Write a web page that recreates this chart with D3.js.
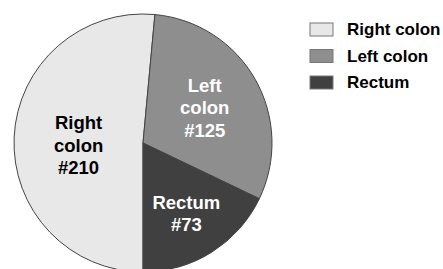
<!DOCTYPE html>
<html>
<head>
<meta charset="utf-8">
<script src="https://cdn.jsdelivr.net/npm/d3@7"></script>
<style>
  body { margin: 0; background: #fff; }
  text { font-family: "Liberation Sans", Arial, sans-serif; font-weight: bold; }
</style>
</head>
<body>
<svg width="443" height="269"></svg>
<script>
var width = 443;
var height = 269;

// data
var categories = ["Right colon", "Left colon", "Rectum"];
var counts = [210, 125, 73];
var colors = ["#e8e8e8", "#8e8e8e", "#404040"];
var labelColors = ["#000", "#fff", "#fff"];

var cx = 143, cy = 143, radius = 129;
var labelRadius = [0.5, 0.55, 0.63]; // fraction of radius for each slice label
var labelShift = [5, 0, 2];          // small vertical nudge

var svg = d3.select("svg");

var pie = d3.pie()
    .sort(null)
    .startAngle(Math.PI)
    .endAngle(3 * Math.PI);

var arcs = pie(counts);

var arc = d3.arc().innerRadius(0).outerRadius(radius);

var g = svg.append("g")
    .attr("transform", "translate(" + cx + "," + cy + ")");

g.selectAll("path")
    .data(arcs)
    .enter().append("path")
    .attr("d", arc)
    .attr("fill", function(d, i) { return colors[i]; })
    .attr("stroke", "#444")
    .attr("stroke-width", 1);

// slice labels
var labels = g.selectAll("text.lab")
    .data(arcs)
    .enter().append("text")
    .attr("class", "lab")
    .attr("text-anchor", "middle")
    .attr("font-size", 18.5)
    .attr("fill", function(d, i) { return labelColors[i]; })
    .attr("transform", function(d, i) {
        var r = radius * labelRadius[i];
        var c = d3.arc().innerRadius(r).outerRadius(r).centroid(d);
        return "translate(" + c[0] + "," + (c[1] + labelShift[i]) + ")";
    });

labels.each(function(d, i) {
    var words = categories[i].split(" ");
    var lines = words.concat(["#" + counts[i]]);
    var lh = 22.5;
    var y0 = -(lines.length - 1) * lh / 2;
    d3.select(this).selectAll("tspan")
        .data(lines)
        .enter().append("tspan")
        .attr("x", 0)
        .attr("y", function(l, j) { return y0 + j * lh; })
        .attr("dy", "0.35em")
        .text(function(l) { return l; });
});

// legend
var legend = svg.append("g")
    .attr("transform", "translate(310,19)")
    .selectAll("g")
    .data(categories)
    .enter().append("g")
    .attr("transform", function(d, i) { return "translate(0," + i * 26.5 + ")"; });

legend.append("rect")
    .attr("width", 23)
    .attr("height", 13)
    .attr("y", 4)
    .attr("fill", function(d, i) { return colors[i]; })
    .attr("stroke", "#777")
    .attr("stroke-width", 1);

legend.append("text")
    .attr("x", 37)
    .attr("y", 10.5)
    .attr("dy", "0.35em")
    .attr("font-size", 17)
    .attr("fill", "#000")
    .text(function(d) { return d; });
</script>
</body>
</html>
